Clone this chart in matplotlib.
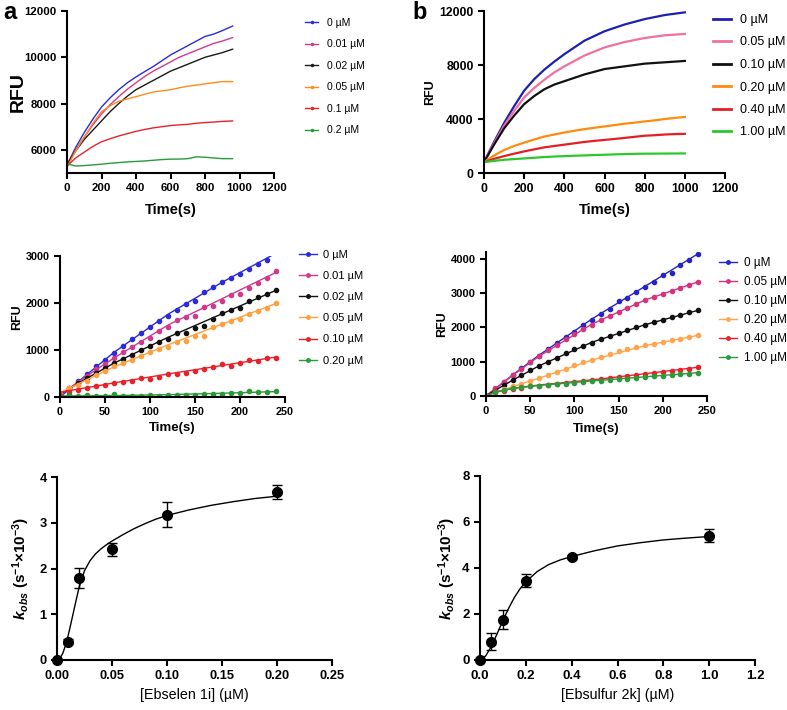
import matplotlib
matplotlib.use("Agg")
import matplotlib.pyplot as plt
from matplotlib.lines import Line2D
from matplotlib.ticker import MultipleLocator, FormatStrFormatter

plt.rcParams["font.family"] = ["Liberation Sans", "DejaVu Sans"]
plt.rcParams["font.weight"] = "bold"
plt.rcParams["axes.labelweight"] = "bold"
plt.rcParams["axes.linewidth"] = 1.5
plt.rcParams["mathtext.fontset"] = "custom"
plt.rcParams["mathtext.rm"] = "Liberation Sans:bold"
plt.rcParams["mathtext.it"] = "Liberation Sans:italic:bold"
plt.rcParams["mathtext.bf"] = "Liberation Sans:bold"

W, H = 787, 710

# ---- panel a, top: full kinetic traces ----
t_a_top = [0, 50, 100, 150, 200, 250, 300, 350, 400, 450, 500,
           550, 600, 650, 700, 750, 800, 850, 900, 960]
labels_a_top = ["0 µM", "0.01 µM", "0.02 µM", "0.05 µM", "0.1 µM", "0.2 µM"]
colors_a_top = ["#2b2bd9", "#d13a8c", "#1a1a1a", "#ff8c1a", "#e8222a", "#2a9a3a"]
rfu_a_top = [
    [5350, 6100, 6750, 7330, 7850, 8250, 8600, 8900, 9150, 9380, 9600,
     9850, 10100, 10300, 10500, 10700, 10900, 11000, 11150, 11350],
    [5350, 6000, 6550, 7080, 7550, 7950, 8300, 8620, 8900, 9170, 9400,
     9600, 9800, 10000, 10150, 10300, 10450, 10600, 10700, 10850],
    [5350, 5950, 6450, 6850, 7250, 7650, 8000, 8320, 8600, 8800, 9000,
     9200, 9400, 9550, 9700, 9850, 10000, 10100, 10200, 10350],
    [5250, 5950, 6550, 7150, 7650, 7900, 8100, 8200, 8300, 8400, 8500,
     8550, 8600, 8680, 8750, 8800, 8850, 8900, 8950, 8950],
    [5300, 5650, 5900, 6150, 6350, 6480, 6600, 6700, 6800, 6880, 6950,
     7000, 7050, 7080, 7100, 7150, 7180, 7200, 7230, 7250],
    [5400, 5300, 5320, 5350, 5380, 5420, 5450, 5480, 5500, 5520, 5550,
     5580, 5600, 5600, 5620, 5700, 5680, 5650, 5620, 5620],
]

# ---- panel b, top: full kinetic traces ----
t_b_top = [0, 50, 100, 150, 200, 250, 300, 350, 400, 450, 500,
           550, 600, 650, 700, 750, 800, 850, 900, 950, 1000]
labels_b_top = ["0 µM", "0.05 µM", "0.10 µM", "0.20 µM", "0.40 µM", "1.00 µM"]
colors_b_top = ["#1f1fb0", "#f0709f", "#111111", "#ff8a10", "#e51e25", "#2bc72b"]
rfu_b_top = [
    [800, 2300, 3700, 4950, 6100, 6950, 7650, 8250, 8800, 9300, 9800,
     10150, 10500, 10750, 11000, 11200, 11400, 11550, 11700, 11800, 11900],
    [800, 2200, 3500, 4600, 5600, 6300, 6900, 7450, 7900, 8300, 8700,
     9000, 9300, 9500, 9700, 9850, 10000, 10100, 10200, 10250, 10300],
    [800, 2100, 3300, 4250, 5100, 5700, 6200, 6550, 6800, 7050, 7300,
     7500, 7700, 7800, 7900, 8000, 8100, 8150, 8200, 8250, 8300],
    [800, 1300, 1700, 2000, 2250, 2480, 2700, 2850, 3000, 3130, 3250,
     3350, 3450, 3550, 3650, 3730, 3820, 3900, 4000, 4080, 4150],
    [800, 1050, 1250, 1430, 1600, 1750, 1900, 2000, 2100, 2200, 2300,
     2380, 2450, 2520, 2600, 2680, 2760, 2800, 2850, 2880, 2900],
    [800, 900, 980, 1030, 1080, 1130, 1180, 1220, 1250, 1280, 1300,
     1330, 1350, 1380, 1400, 1420, 1430, 1435, 1440, 1445, 1450],
]

# ---- middle panels: initial rates (0-240 s), dots + fitted lines ----
t_mid = [0, 10, 20, 30, 40, 50, 60, 70, 80, 90, 100, 110, 120,
         130, 140, 150, 160, 170, 180, 190, 200, 210, 220, 230, 240]
labels_a_mid = ["0 µM", "0.01 µM", "0.02 µM", "0.05 µM", "0.10 µM", "0.20 µM"]
colors_a_mid = ["#2b2bd9", "#d13a8c", "#111111", "#ffa040", "#e8222a", "#2a9a3a"]
rfu_a_mid = [
    [0, 200, 330, 500, 650, 790, 930, 1090, 1230, 1370, 1500, 1620, 1730,
     1860, 1980, 2040, 2230, 2350, 2440, 2540, 2620, 2720, 2820, 2920],
    [50, 200, 310, 450, 590, 700, 820, 950, 1060, 1160, 1260, 1400, 1490,
     1640, 1700, 1720, 1920, 1940, 2040, 2170, 2200, 2310, 2420, 2540, 2680],
    [50, 180, 290, 400, 510, 610, 730, 800, 890, 990, 1080, 1160, 1230,
     1360, 1370, 1470, 1510, 1650, 1790, 1850, 1900, 2040, 2120, 2200, 2270],
    [80, 190, 260, 350, 470, 550, 650, 730, 780, 880, 950, 1020, 1070,
     1180, 1200, 1290, 1300, 1500, 1560, 1610, 1670, 1770, 1820, 1900, 1990],
    [50, 100, 150, 200, 230, 250, 290, 320, 340, 410, 390, 420, 500,
     500, 520, 560, 590, 630, 700, 670, 730, 780, 760, 830, 840],
    [0, 50, 30, 40, 20, 20, 60, 20, 20, 30, 40, 30, 40,
     40, 40, 50, 60, 60, 70, 80, 80, 120, 100, 100, 130],
]
t_fit_a_mid = [0, 30, 60, 120, 180, 240]
fit_a_mid = [
    [0, 480, 950, 1760, 2440, 3060],
    [50, 450, 830, 1530, 2090, 2650],
    [60, 400, 720, 1270, 1770, 2270],
    [90, 370, 640, 1110, 1550, 1990],
    [100, 200, 300, 490, 670, 850],
    [20, 25, 30, 50, 80, 115],
]

labels_b_mid = ["0 µM", "0.05 µM", "0.10 µM", "0.20 µM", "0.40 µM", "1.00 µM"]
colors_b_mid = ["#2424c8", "#d6337f", "#111111", "#ffa64d", "#e8222a", "#2a9a3a"]
rfu_b_mid = [
    [0, 200, 400, 620, 820, 1000, 1180, 1380, 1560, 1720, 1880, 2060, 2230,
     2380, 2540, 2760, 2860, 3020, 3170, 3330, 3520, 3580, 3830, 3970, 4150],
    [0, 220, 420, 600, 800, 980, 1160, 1330, 1490, 1650, 1800, 1940, 2080,
     2220, 2340, 2450, 2570, 2680, 2800, 2880, 2980, 3060, 3150, 3250, 3330],
    [0, 160, 310, 460, 610, 760, 880, 1000, 1120, 1240, 1360, 1460, 1560,
     1660, 1750, 1840, 1920, 2000, 2080, 2160, 2220, 2300, 2370, 2440, 2500],
    [0, 100, 190, 280, 360, 440, 530, 620, 700, 800, 900, 980, 1060,
     1150, 1220, 1300, 1370, 1420, 1480, 1530, 1580, 1620, 1670, 1720, 1770],
    [0, 150, 140, 190, 240, 280, 300, 330, 360, 380, 410, 440, 460,
     490, 520, 560, 590, 620, 650, 670, 700, 730, 760, 790, 840],
    [0, 130, 180, 220, 250, 280, 300, 320, 340, 360, 390, 410, 430,
     450, 470, 490, 510, 530, 550, 570, 590, 610, 630, 650, 680],
]
t_fit_b_mid = [0, 10, 30, 60, 120, 180, 240]
fit_b_mid = [
    [0, 200, 610, 1190, 2250, 3200, 4150],
    [0, 200, 600, 1160, 2100, 2800, 3330],
    [0, 160, 460, 880, 1570, 2080, 2500],
    [0, 90, 270, 520, 1050, 1470, 1770],
    [0, 110, 220, 320, 470, 650, 840],
    [0, 110, 220, 310, 440, 560, 680],
]

# ---- bottom panels: kobs vs inhibitor concentration ----
conc_a = [0, 0.01, 0.02, 0.05, 0.10, 0.20]
kobs_a = [0, 0.40, 1.80, 2.42, 3.18, 3.67]
err_a = [0, 0.05, 0.22, 0.14, 0.27, 0.15]
fit_x_a = [0, 0.0025, 0.005, 0.0075, 0.01, 0.0125, 0.015, 0.0175, 0.02, 0.025,
           0.03, 0.035, 0.04, 0.045, 0.05, 0.06, 0.07, 0.08, 0.09, 0.10,
           0.12, 0.14, 0.16, 0.18, 0.20]
fit_y_a = [0, 0.04, 0.13, 0.3, 0.52, 0.78, 1.05, 1.32, 1.58, 1.95,
           2.17, 2.32, 2.43, 2.52, 2.6, 2.74, 2.87, 2.98, 3.08, 3.16,
           3.28, 3.38, 3.46, 3.53, 3.58]

conc_b = [0, 0.05, 0.1, 0.2, 0.4, 1.0]
kobs_b = [0, 0.80, 1.75, 3.45, 4.48, 5.40]
err_b = [0, 0.36, 0.42, 0.29, 0.08, 0.29]
fit_x_b = [0, 0.025, 0.05, 0.075, 0.1, 0.125, 0.15, 0.175, 0.2, 0.25,
           0.3, 0.35, 0.4, 0.5, 0.6, 0.7, 0.8, 0.9, 1.0]
fit_y_b = [0, 0.18, 0.6, 1.15, 1.72, 2.25, 2.72, 3.1, 3.4, 3.85,
           4.15, 4.35, 4.5, 4.75, 4.96, 5.1, 5.22, 5.3, 5.37]


def make_axes(fig, left, right, top, bottom):
    """pixel box -> axes"""
    ax = fig.add_axes([left / W, 1 - bottom / H, (right - left) / W, (bottom - top) / H])
    ax.spines["top"].set_visible(False)
    ax.spines["right"].set_visible(False)
    ax.tick_params(direction="out", length=4, width=1.5)
    return ax


def add_legend(ax, handles, labels, x, y, size, spacing, hlen, pad):
    ax.legend(handles, labels, loc="upper left", bbox_to_anchor=(x / W, 1 - y / H),
              bbox_transform=ax.figure.transFigure, frameon=False, borderpad=0,
              borderaxespad=0, labelspacing=spacing,
              handlelength=hlen, handletextpad=pad,
              prop={"weight": "normal", "size": size})


fig = plt.figure(figsize=(W / 100, H / 100), dpi=100)

# top left
ax = make_axes(fig, 67, 274, 11, 173)
for ys, c in zip(rfu_a_top, colors_a_top):
    ax.plot(t_a_top, ys, color=c, lw=1.0)
ax.set_xlim(0, 1200)
ax.set_ylim(5000, 12000)
ax.set_xticks(range(0, 1201, 200))
ax.set_yticks([6000, 8000, 10000, 12000])
ax.tick_params(labelsize=8.2)
ax.set_xlabel("Time(s)", fontsize=10.5)
ax.xaxis.set_label_coords(0.5, -0.185)
ax.set_ylabel("RFU", fontsize=14)
ax.yaxis.set_label_coords(-0.194, 0.5)
hs = [Line2D([], [], color=c, lw=1, marker=".", ms=3) for c in colors_a_top]
add_legend(ax, hs, labels_a_top, 305, 18, 7.5, 1.1, 1.25, 0.9)

# top right
ax = make_axes(fig, 484, 725, 11, 173)
for ys, c in zip(rfu_b_top, colors_b_top):
    ax.plot(t_b_top, ys, color=c, lw=1.6)
ax.set_xlim(0, 1200)
ax.set_ylim(0, 12000)
ax.set_xticks(range(0, 1201, 200))
ax.set_yticks([0, 4000, 8000, 12000])
ax.tick_params(labelsize=8.8)
ax.set_xlabel("Time(s)", fontsize=10.5)
ax.xaxis.set_label_coords(0.5, -0.185)
ax.set_ylabel("RFU", fontsize=9)
ax.yaxis.set_label_coords(-0.2, 0.5)
hs = [Line2D([], [], color=c, lw=2) for c in colors_b_top]
add_legend(ax, hs, labels_b_top, 713, 14, 9, 0.84, 1.4, 0.8)

# middle left
ax = make_axes(fig, 60, 285, 256, 397)
for ys, fy, c in zip(rfu_a_mid, fit_a_mid, colors_a_mid):
    ax.plot(t_fit_a_mid, fy, color=c, lw=1.0)
    ax.plot(t_mid[:len(ys)], ys, color=c, lw=0, marker="o", ms=3)
ax.set_xlim(0, 250)
ax.set_ylim(0, 3000)
ax.set_xticks(range(0, 251, 50))
ax.set_yticks([0, 1000, 2000, 3000])
ax.tick_params(labelsize=7.8)
ax.set_xlabel("Time(s)", fontsize=9.5)
ax.xaxis.set_label_coords(0.5, -0.18)
ax.set_ylabel("RFU", fontsize=9)
ax.yaxis.set_label_coords(-0.164, 0.567)
hs = [Line2D([], [], color=c, lw=1, marker="o", ms=2.5) for c in colors_a_mid]
add_legend(ax, hs, labels_a_mid, 299, 250, 8, 1.0, 1.6, 0.6)

# middle right
ax = make_axes(fig, 486, 707, 252, 396)
for ys, fy, c in zip(rfu_b_mid, fit_b_mid, colors_b_mid):
    ax.plot(t_fit_b_mid, fy, color=c, lw=1.0)
    ax.plot(t_mid, ys, color=c, lw=0, marker="o", ms=3)
ax.set_xlim(0, 250)
ax.set_ylim(0, 4200)
ax.set_xticks(range(0, 251, 50))
ax.set_yticks([0, 1000, 2000, 3000, 4000])
ax.tick_params(labelsize=8)
ax.set_xlabel("Time(s)", fontsize=9.5)
ax.xaxis.set_label_coords(0.5, -0.185)
ax.set_ylabel("RFU", fontsize=9)
ax.yaxis.set_label_coords(-0.173, 0.5)
hs = [Line2D([], [], color=c, lw=1, marker="o", ms=2.5) for c in colors_b_mid]
add_legend(ax, hs, labels_b_mid, 719, 257, 8.5, 0.6, 1.5, 0.6)

# bottom left
ax = make_axes(fig, 57, 332, 477, 660)
ax.plot(fit_x_a, fit_y_a, color="black", lw=1.0)
ax.errorbar(conc_a, kobs_a, yerr=err_a, fmt="o", color="black", ms=7,
            capsize=3.5, elinewidth=1, capthick=1, clip_on=False, zorder=3)
ax.set_xlim(0, 0.25)
ax.set_ylim(0, 4)
ax.set_xticks([0, 0.05, 0.10, 0.15, 0.20, 0.25])
ax.xaxis.set_major_formatter(FormatStrFormatter("%.2f"))
ax.yaxis.set_major_locator(MultipleLocator(1))
ax.tick_params(labelsize=9.3)
ax.set_xlabel("[Ebselen 1i] (µM)", fontsize=10.3, fontweight="normal")
ax.xaxis.set_label_coords(0.5, -0.153)
ax.set_ylabel(r"$k_{obs}$ (s$^{-1}$×10$^{-3}$)", fontsize=11)
ax.yaxis.set_label_coords(-0.091, 0.5)

# bottom right
ax = make_axes(fig, 480, 755, 476, 660)
ax.plot(fit_x_b, fit_y_b, color="black", lw=1.0)
ax.errorbar(conc_b, kobs_b, yerr=err_b, fmt="o", color="black", ms=7,
            capsize=3.5, elinewidth=1, capthick=1, clip_on=False, zorder=3)
ax.set_xlim(0, 1.2)
ax.set_ylim(0, 8)
ax.set_xticks([0, 0.2, 0.4, 0.6, 0.8, 1.0, 1.2])
ax.xaxis.set_major_formatter(FormatStrFormatter("%.1f"))
ax.yaxis.set_major_locator(MultipleLocator(2))
ax.tick_params(labelsize=9.5)
ax.set_xlabel("[Ebsulfur 2k] (µM)", fontsize=10.3, fontweight="normal")
ax.xaxis.set_label_coords(0.5, -0.153)
ax.set_ylabel(r"$k_{obs}$ (s$^{-1}$×10$^{-3}$)", fontsize=11)
ax.yaxis.set_label_coords(-0.08, 0.5)

# panel letters
fig.text(3 / W, 1 - 1 / H, "a", fontsize=17, fontweight="bold", va="top", ha="left")
fig.text(412 / W, 1 - 1 / H, "b", fontsize=17, fontweight="bold", va="top", ha="left")

fig.savefig("out.png", dpi=100)
